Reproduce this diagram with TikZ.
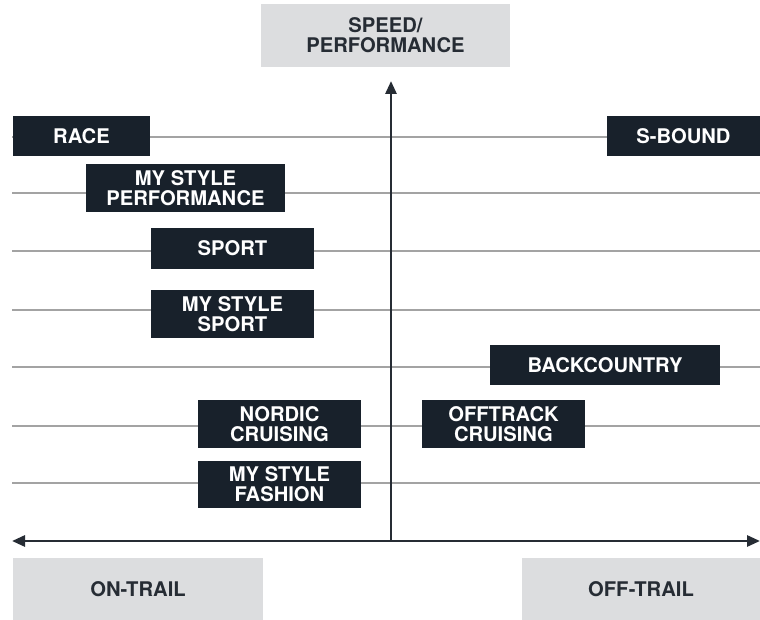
\documentclass[tikz,border=0pt]{standalone}
\usepackage{fontspec}
\setmainfont{TeX Gyre Heros}
\usetikzlibrary{arrows.meta}
\definecolor{navy}{HTML}{18212B}
\definecolor{panel}{HTML}{DCDDDF}
\definecolor{grid}{HTML}{A3A3A3}
\definecolor{axis}{HTML}{262C34}
\tikzset{
  label/.style={inner sep=0pt, align=center, font=\bfseries\fontsize{20.2}{20}\selectfont},
  darkbox/.style={label, fill=navy, text=white},
  greybox/.style={label, fill=panel, text=axis},
  gridline/.style={draw=grid, line width=1.4pt},
  axisline/.style={draw=axis, line width=2.8pt, -{Triangle[length=13pt,width=11pt]}},
}
\begin{document}
\begin{tikzpicture}[x=1pt,y=-1pt]
  \fill[white] (0,0) rectangle (760,620);
  \useasboundingbox (0,0) rectangle (760,620);

  % horizontal guide lines
  \foreach \yy in {137,193,251,310,367,426,483}
    \draw[gridline] (12,\yy) -- (760,\yy);

  % axes
  \coordinate (origin) at (391,541);
  \coordinate (ytip) at (391,81);
  \coordinate (xleft) at (12,541);
  \coordinate (xright) at (760,541);
  \draw[axisline] (origin) -- (ytip);
  \draw[axisline, {Triangle[length=13pt,width=11pt]}-{Triangle[length=13pt,width=11pt]}] (xleft) -- (xright);

  % axis captions
  \node[greybox, minimum width=249pt, minimum height=63pt] (speed) at (385.5,35.5) {SPEED/\\PERFORMANCE};
  \node[greybox, minimum width=250pt, minimum height=62pt] (ontrail) at (138,589) {ON-TRAIL};
  \node[greybox, minimum width=238pt, minimum height=62pt] (offtrail) at (641,589) {OFF-TRAIL};

  % product boxes
  \node[darkbox, minimum width=137pt, minimum height=40pt] (race) at (81.5,136) {RACE};
  \node[darkbox, minimum width=199pt, minimum height=48pt] (msperf) at (185.5,188) {MY STYLE\\PERFORMANCE};
  \node[darkbox, minimum width=163pt, minimum height=41pt] (sport) at (232.5,248.5) {SPORT};
  \node[darkbox, minimum width=163pt, minimum height=48pt] (mssport) at (232.5,314) {MY STYLE\\SPORT};
  \node[darkbox, minimum width=230pt, minimum height=40pt] (back) at (605,365) {BACKCOUNTRY};
  \node[darkbox, minimum width=163pt, minimum height=48pt] (offtrack) at (503.5,424) {OFFTRACK\\CRUISING};
  \node[darkbox, minimum width=163pt, minimum height=48pt] (nordic) at (279.5,424) {NORDIC\\CRUISING};
  \node[darkbox, minimum width=163pt, minimum height=47pt] (msfashion) at (279.5,484.5) {MY STYLE\\FASHION};
  \node[darkbox, minimum width=153pt, minimum height=40pt] (sbound) at (683.5,136) {S-BOUND};
\end{tikzpicture}
\end{document}
